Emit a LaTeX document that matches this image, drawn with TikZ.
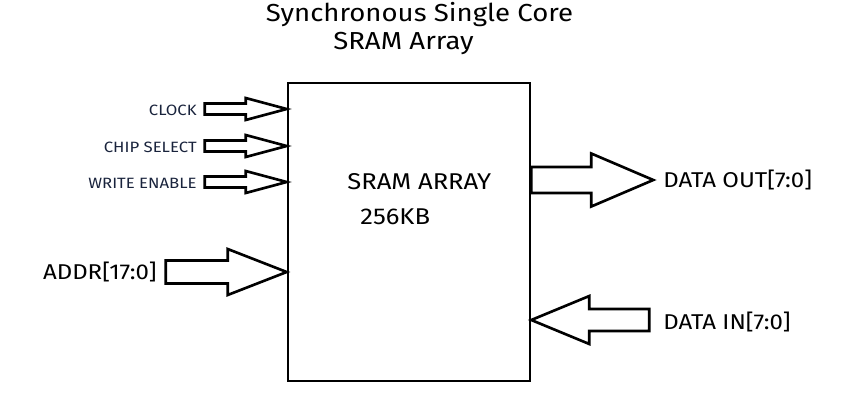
\documentclass[tikz,border=0pt]{standalone}
\usepackage{fontspec}
\setmainfont[FakeStretch=1.12]{Fira Sans}
\usetikzlibrary{positioning}
\definecolor{siglabel}{RGB}{25,35,60}
\tikzset{
  bus/.style={draw=black, line width=1.5pt, fill=white, line join=miter},
  sig/.style={font=\fontsize{8.5}{10}\selectfont, text=siglabel, inner sep=0pt},
  port/.style={font=\fontsize{12.2}{14}\selectfont, inner sep=0pt},
  inside/.style={font=\fontsize{13}{15}\selectfont, inner sep=0pt},
  heading/.style={font=\fontsize{14}{17}\selectfont, inner sep=0pt},
}
\begin{document}
\begin{tikzpicture}[x=0.02cm, y=-0.02cm]
\useasboundingbox (0,0) rectangle (850,407);
% title
\node[heading] (title) at (419.5,15) {Synchronous Single Core};
\node[heading] (subtitle) at (403.5,43) {SRAM Array};
% memory block
\node[draw, line width=1.5pt, minimum width=4.84cm, minimum height=5.96cm, inner sep=0pt] (sram) at (409,232) {};
\node[inside, anchor=west] (arrayname) at (347,182) {SRAM ARRAY};
\node[inside, anchor=west] (arraysize) at (360,217) {256KB};
% control inputs
\draw[bus] (sram.west |- 0,109) -- ++(-41,-11) -- ++(0,5.5) -- ++(-41,0) -- ++(0,11) -- ++(41,0) -- ++(0,5.5) -- cycle;
\draw[bus] (sram.west |- 0,146) -- ++(-41,-11) -- ++(0,5.5) -- ++(-41,0) -- ++(0,11) -- ++(41,0) -- ++(0,5.5) -- cycle;
\draw[bus] (sram.west |- 0,182) -- ++(-41,-11) -- ++(0,5.5) -- ++(-41,0) -- ++(0,11) -- ++(41,0) -- ++(0,5.5) -- cycle;
\node[sig, anchor=east] (clock) at (197,110) {CLOCK};
\node[sig, anchor=east] (chipsel) at (197,147) {CHIP SELECT};
\node[sig, anchor=east] (wren) at (197,183) {WRITE ENABLE};
% address bus
\draw[bus] (sram.west |- 0,272) -- ++(-59,-23) -- ++(0,11.5) -- ++(-62,0) -- ++(0,23) -- ++(62,0) -- ++(0,11.5) -- cycle;
\node[port, anchor=east] (addr) at (157,272) {ADDR[17:0]};
% data buses
\draw[bus] (sram.east |- 0,180) -- ++(0,-13) -- ++(60,0) -- ++(0,-13.5) -- ++(62,26.5) -- ++(-62,26.5) -- ++(0,-13.5) -- ++(-60,0) -- cycle;
\node[port, anchor=west] (dout) at (663,180) {DATA OUT[7:0]};
\draw[bus] (sram.east |- 0,320) -- ++(58,-24) -- ++(0,13) -- ++(60,0) -- ++(0,22) -- ++(-60,0) -- ++(0,13) -- cycle;
\node[port, anchor=west] (din) at (663,322) {DATA IN[7:0]};
\end{tikzpicture}
\end{document}
